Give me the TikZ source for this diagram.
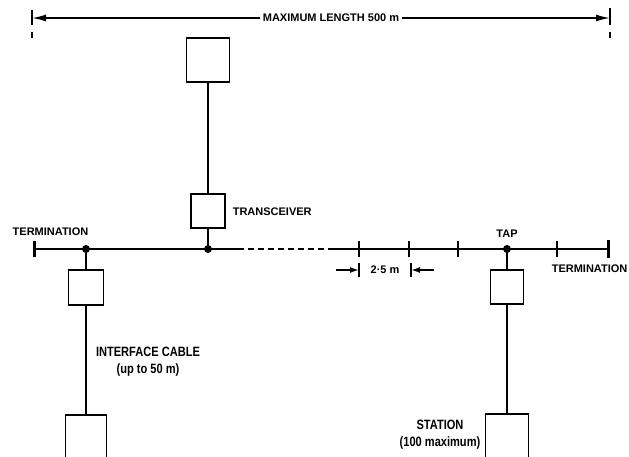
\documentclass[tikz,border=0pt]{standalone}
\usepackage{fontspec}
\setmainfont{Liberation Sans}
\newfontfamily\condfont{Liberation Sans}[FakeStretch=0.82]
\usetikzlibrary{arrows.meta}
\begin{document}
\begin{tikzpicture}[x=1pt,y=-1pt,line width=1.6pt,
  box/.style={draw,inner sep=0pt,line width=1.7pt},
  lbl/.style={font=\bfseries\fontsize{11}{18}\selectfont,inner sep=0pt},
  biglbl/.style={font=\condfont\bfseries\fontsize{13.5}{17}\selectfont,inner sep=0pt},
  tapdot/.style={circle,fill=black,draw=none,inner sep=0pt,minimum size=8pt},
  termbar/.style={line width=3pt},
  bigarrow/.style={-{Latex[length=14pt,width=7pt]}},
  smallarrow/.style={-{Latex[length=9pt,width=6pt]}}]
\useasboundingbox (0,0) rectangle (629,456);
\clip (0,0) rectangle (629,456);

% top dimension
\node[lbl,inner xsep=2pt] (maxlen) at (331,18) {MAXIMUM LENGTH 500 m};
\coordinate (lend) at (32,18);
\coordinate (rend) at (610,18);
\draw[bigarrow] (maxlen.west) -- (lend);
\draw[bigarrow] (maxlen.east) -- (rend);
\draw (32,10) -- (32,25);
\draw (32,32) -- (32,38);
\draw (610,8) -- (610,25);
\draw (610,32) -- (610,38);

% bus
\coordinate (termL) at (34,249);
\coordinate (termR) at (608,249);
\coordinate (pL) at (86,249);
\coordinate (pM) at (208,249);
\coordinate (pR) at (507,249);
\coordinate (dashA) at (238,249);
\coordinate (dashB) at (328,249);
\draw (termL) -- (pL) -- (pM) -- (dashA);
\draw[dash pattern=on 6pt off 4pt] (dashA) -- (dashB);
\draw (dashB) -- (pR) -- (termR);
\draw[termbar] (34,241) -- (34,257);
\draw[termbar] (608,240) -- (608,258);
\foreach \x in {359,409,458,557} \draw (\x,241) -- (\x,257);

% boxes
\node[box,minimum width=43pt,minimum height=44pt] (host) at (208,60) {};
\node[box,minimum width=34pt,minimum height=34pt] (trx) at (208,211) {};
\node[box,minimum width=35pt,minimum height=35pt] (tbL) at (86,287.5) {};
\node[box,minimum width=41pt,minimum height=60pt] (stL) at (86,445) {};
\node[box,minimum width=33pt,minimum height=34pt] (tbR) at (507,287) {};
\node[box,minimum width=43pt,minimum height=60pt] (stR) at (507,444) {};

% dots
\node[tapdot] (dL) at (pL) {};
\node[tapdot] (dM) at (pM) {};
\node[tapdot] (dR) at (pR) {};

% vertical connectors
\draw (host.south) -- (trx.north);
\draw (trx.south) -- (dM.center);
\draw (dL.center) -- (tbL.north);
\draw (tbL.south) -- (stL.north);
\draw (dR.center) -- (tbR.north);
\draw (tbR.south) -- (stR.north);

% 2.5 m spacing
\node[lbl] (sp) at (385,270) {2·5 m};
\coordinate (barA) at (359,270);
\coordinate (barB) at (411,270);
\coordinate (arrA) at (336,270);
\coordinate (arrB) at (434,270);
\draw (359,263) -- (359,277);
\draw (411,263) -- (411,277);
\draw[smallarrow] (arrA) -- (barA);
\draw[smallarrow] (arrB) -- (barB);

% labels
\node[lbl] (tlL) at (50.5,232) {TERMINATION};
\node[lbl,anchor=west] (trxl) at (232,212) {TRANSCEIVER};
\node[lbl] (tapl) at (507,234) {TAP};
\node[lbl,anchor=west] (tlR) at (551,269) {TERMINATION};
\node[biglbl,align=center] (icl) at (148,362) {INTERFACE CABLE\\(up to 50 m)};
\node[biglbl,align=center] (stl) at (440,435) {STATION\\(100 maximum)};
\end{tikzpicture}
\end{document}
